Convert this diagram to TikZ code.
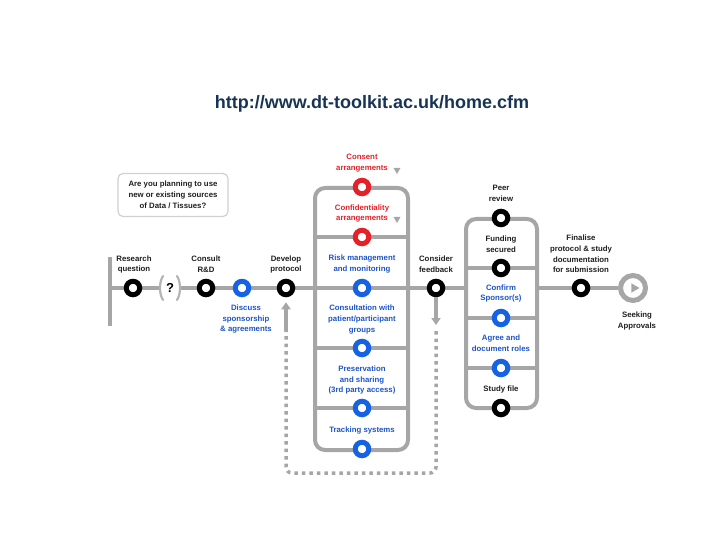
\documentclass[tikz,border=0pt]{standalone}
\usepackage{fontspec}
\setmainfont{Liberation Sans}
\usepackage{xcolor}
\usepackage{tikz}
\usetikzlibrary{shapes.geometric,arrows.meta,positioning,backgrounds}
\definecolor{dtgray}{RGB}{166,166,166}
\definecolor{dtparen}{RGB}{180,180,180}
\definecolor{dtlight}{RGB}{208,208,208}
\definecolor{dtblue}{RGB}{22,98,228}
\definecolor{dtbluetext}{RGB}{28,84,200}
\definecolor{dtred}{RGB}{228,32,40}
\definecolor{dtnavy}{RGB}{24,52,84}
\definecolor{dtink}{RGB}{30,30,30}

\begin{document}
\begin{tikzpicture}[
    x=1pt, y=-1pt,
    font=\fontsize{7.8}{10.8}\selectfont\bfseries,
    stop/.style={
        circle, draw, line width=5pt, fill=white,
        minimum size=13.5pt, inner sep=0pt
    },
    blackstop/.style={stop, draw=black},
    bluestop/.style={stop, draw=dtblue},
    redstop/.style={stop, draw=dtred},
    lbl/.style={align=center, inner sep=0pt, text=dtink},
    bluelbl/.style={lbl, text=dtbluetext},
    redlbl/.style={lbl, text=dtred},
    mainline/.style={line width=4pt, draw=dtgray},
    panel/.style={line width=4pt, draw=dtgray, fill=white, rounded corners=10pt},
    divider/.style={line width=4pt, draw=dtgray},
    marker/.style={
        regular polygon, regular polygon sides=3, shape border rotate=180,
        fill=dtgray, inner sep=0pt, minimum size=8pt
    },
    paren/.style={line width=2.2pt, draw=dtparen, line cap=round},
    fbarrow/.style={-{Triangle[length=7pt,width=9pt]}, line width=3.5pt, draw=dtgray},
    fbloop/.style={line width=3.5pt, draw=dtgray, dash pattern=on 3.5pt off 4pt, rounded corners=6pt}
]
\useasboundingbox (0,0) rectangle (720,540);

\node[font=\fontsize{18}{20}\selectfont\bfseries, text=dtnavy] (title) at (372,104) {http://www.dt-toolkit.ac.uk/home.cfm};

\node[draw=dtlight, line width=1.2pt, rounded corners=5pt,
      minimum width=110pt, minimum height=43pt, align=center, inner sep=0pt, text=dtink]
      (question) at (173,195) {Are you planning to use\\new or existing sources\\of Data / Tissues?};

% panel edges
\coordinate (midW)  at (315,0);
\coordinate (midE)  at (408,0);
\coordinate (sideW) at (466,0);
\coordinate (sideE) at (537,0);

% main line stops
\coordinate (barTop) at (110,257);
\coordinate (barBot) at (110,326);
\coordinate (start)  at (110,288);
\node[blackstop] (research) at (133,288) {};
\node[inner sep=0pt, outer sep=0pt, minimum width=20pt, minimum height=24pt,
      font=\fontsize{13}{14}\selectfont\bfseries] (maybe) at (170,288) {?};
\node[blackstop] (consult)  at (206,288) {};
\node[bluestop]  (discuss)  at (242,288) {};
\node[blackstop] (develop)  at (286,288) {};
\node[bluestop]  (risk)     at (362,288) {};
\node[blackstop] (consider) at (436,288) {};
\node[blackstop] (finalise) at (581,288) {};
\node[circle, draw=dtgray, line width=5pt, fill=white, minimum size=25pt, inner sep=0pt]
      (approval) at (633,288) {};
\node[regular polygon, regular polygon sides=3, shape border rotate=-90,
      fill=dtgray, inner sep=0pt, minimum size=11pt, xshift=1pt] (approvalplay) at (approval) {};

% middle column
\node[redstop]  (consent)  at (362,187) {};
\node[redstop]  (confid)   at (362,237) {};
\node[bluestop] (patients) at (362,348) {};
\node[bluestop] (sharing)  at (362,408) {};
\node[bluestop] (tracking) at (362,449) {};
\node[marker] (consentmark) at (397,170) {};
\node[marker] (confidmark)  at (397,219) {};

% right column
\node[blackstop] (peer)    at (501,218) {};
\node[blackstop] (funding) at (501,268) {};
\node[bluestop]  (confirm) at (501,318) {};
\node[bluestop]  (agree)   at (501,368) {};
\node[blackstop] (study)   at (501,408) {};

% labels
\node[lbl]     (researchlbl) at (134,264.5) {Research\\question};
\node[lbl]     (consultlbl)  at (206,264.5) {Consult\\R\&D};
\node[lbl]     (developlbl)  at (286,264.5) {Develop\\protocol};
\node[bluelbl] (risklbl)     at (362,264)   {Risk management\\and monitoring};
\node[lbl]     (considerlbl) at (436,264.5) {Consider\\feedback};
\node[lbl]     (finaliselbl) at (581,254)   {Finalise\\protocol \& study\\documentation\\for submission};
\node[bluelbl] (discusslbl)  at (246,319)   {Discuss\\sponsorship\\\& agreements};
\node[lbl]     (approvallbl) at (637,321)   {Seeking\\Approvals};

\node[redlbl]  (consentlbl)  at (362,163)   {Consent\\arrangements};
\node[redlbl]  (confidlbl)   at (362,213.5) {Confidentiality\\arrangements};
\node[bluelbl] (patientslbl) at (362,319.5) {Consultation with\\patient/participant\\groups};
\node[bluelbl] (sharinglbl)  at (362,380)   {Preservation\\and sharing\\(3rd party access)};
\node[bluelbl] (trackinglbl) at (362,430)   {Tracking systems};

\node[lbl]     (peerlbl)     at (501,193.5) {Peer\\review};
\node[lbl]     (fundinglbl)  at (501,244.5) {Funding\\secured};
\node[bluelbl] (confirmlbl)  at (501,293.5) {Confirm\\Sponsor(s)};
\node[bluelbl] (agreelbl)    at (501,343.5) {Agree and\\document roles};
\node[lbl]     (studylbl)    at (501,389)   {Study file};

% (?) brackets
\draw[paren] ([xshift=3pt]maybe.north west)
    .. controls ([xshift=-1pt,yshift=-6pt]maybe.north west) and ([xshift=-1pt,yshift=6pt]maybe.south west)
    .. ([xshift=3pt]maybe.south west);
\draw[paren] ([xshift=-3pt]maybe.north east)
    .. controls ([xshift=1pt,yshift=-6pt]maybe.north east) and ([xshift=1pt,yshift=6pt]maybe.south east)
    .. ([xshift=-3pt]maybe.south east);

% feedback loop
\coordinate (fbTip) at (436,325);
\coordinate (fbR)   at (436,331);
\coordinate (fbL)   at (286,331);
\coordinate (loopBot) at (0,473);
\draw[fbarrow] (consider) -- (fbTip);
\draw[fbarrow, shorten >=5pt] (fbL) -- (develop);
\draw[fbloop] (fbR) -- (fbR |- loopBot) -- (fbL |- loopBot) -- (fbL);

\begin{pgfonlayer}{background}
\draw[mainline] (barTop) -- (barBot);
\draw[mainline] (start) -- (research) -- (maybe) -- (consult) -- (discuss) -- (develop)
    -- (risk) -- (consider) -- (finalise) -- (approval);
\draw[panel] (315,188) rectangle (408,450);
\draw[panel] (466,219) rectangle (537,408);
\draw[divider] (confid -| midW)   -- (confid -| midE);
\draw[divider] (risk -| midW)     -- (risk -| midE);
\draw[divider] (patients -| midW) -- (patients -| midE);
\draw[divider] (sharing -| midW)  -- (sharing -| midE);
\draw[divider] (funding -| sideW) -- (funding -| sideE);
\draw[divider] (confirm -| sideW) -- (confirm -| sideE);
\draw[divider] (agree -| sideW)   -- (agree -| sideE);
\end{pgfonlayer}
\end{tikzpicture}
\end{document}
